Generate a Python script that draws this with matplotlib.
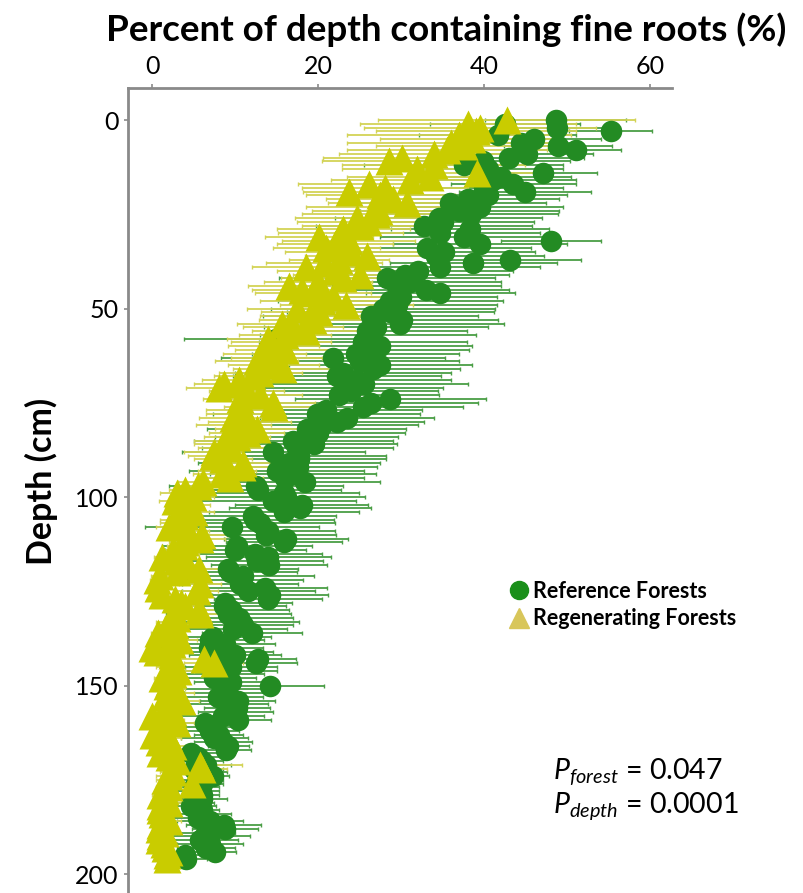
import numpy as np
import matplotlib
matplotlib.use("Agg")
import matplotlib.pyplot as plt
from matplotlib.lines import Line2D

# depth of each sample (cm), one value per cm
depth = np.arange(0, 197)

# Reference forests: percent of depth with fine roots, and its error
ref_pct = [
    48.6, 42.5, 48.8, 55.2, 41.6, 46.0, 44.4, 48.9, 51.0, 45.1,
    43.0, 39.8, 37.5, 40.5, 47.1, 42.0, 41.1, 43.5, 40.0, 44.9,
    40.5, 38.0, 35.9, 39.5, 37.0, 38.4, 34.5, 35.0, 32.7, 38.3,
    34.7, 37.5, 48.0, 39.5, 33.1, 35.1, 34.2, 43.1, 38.7, 34.7,
    32.0, 30.5, 28.3, 31.0, 29.5, 33.0, 34.7, 30.0, 28.7, 29.5,
    27.8, 28.7, 26.3, 30.1, 29.9, 27.0, 25.9, 26.0, 14.9, 25.4,
    27.5, 26.6, 24.5, 21.8, 25.0, 27.5, 26.6, 23.0, 22.3, 24.5,
    25.5, 24.0, 23.9, 22.5, 28.7, 26.3, 25.4, 21.0, 19.8, 23.5,
    22.3, 20.5, 18.6, 20.0, 18.6, 17.0, 19.5, 17.5, 14.6, 17.7,
    17.7, 16.5, 17.6, 15.0, 17.0, 16.0, 18.4, 12.5, 12.8, 15.9,
    16.1, 14.5, 18.0, 17.8, 15.9, 12.2, 12.4, 13.0, 9.6, 14.0,
    13.7, 16.1, 15.9, 10.2, 10.0, 12.4, 14.0, 12.6, 14.1, 9.1,
    9.4, 11.0, 10.7, 10.6, 13.6, 11.6, 14.2, 14.0, 8.8, 8.6,
    9.5, 9.2, 10.5, 10.7, 11.0, 9.8, 12.0, 7.3, 7.0, 8.8,
    6.8, 8.5, 10.0, 12.8, 12.5, 9.5, 9.0, 8.0, 7.5, 9.5,
    14.2, 8.8, 8.9, 7.9, 10.3, 9.0, 10.2, 10.0, 8.5, 10.3,
    6.4, 7.0, 7.0, 8.0, 7.5, 8.5, 9.2, 8.9, 4.7, 5.5,
    6.0, 6.5, 5.0, 6.5, 7.3, 5.5, 6.0, 5.0, 5.5, 6.0,
    6.0, 5.0, 4.7, 6.0, 6.0, 5.5, 7.0, 8.6, 8.8, 6.5,
    6.8, 5.8, 7.0, 6.5, 7.6, 4.0, 4.1,
]
ref_err = [
    8.5, 9.0, 7.5, 5.0, 9.5, 8.0, 7.0, 6.5, 5.5, 8.0,
    9.0, 10.5, 12.0, 9.0, 6.5, 8.5, 10.0, 7.5, 9.5, 8.0,
    9.5, 11.0, 11.5, 10.0, 12.0, 10.5, 12.5, 11.0, 13.0, 9.5,
    12.0, 10.0, 6.0, 10.5, 12.5, 11.0, 13.0, 8.5, 10.0, 12.0,
    11.5, 12.5, 13.0, 11.0, 12.5, 10.0, 9.0, 11.5, 13.5, 12.0,
    13.5, 12.5, 13.0, 11.5, 12.5, 13.5, 12.0, 13.0, 11.0, 12.5,
    11.0, 11.5, 12.5, 13.5, 12.0, 11.0, 10.5, 13.0, 12.5, 11.5,
    12.5, 11.0, 10.5, 12.0, 11.5, 13.0, 12.0, 11.5, 12.5, 10.5,
    10.5, 11.5, 12.0, 10.5, 11.0, 12.0, 10.0, 11.5, 11.0, 10.5,
    10.5, 11.0, 9.5, 10.5, 10.0, 9.5, 9.0, 10.5, 10.0, 9.0,
    9.5, 10.0, 8.0, 8.5, 9.0, 10.0, 9.5, 9.0, 10.5, 8.0,
    8.5, 7.5, 7.0, 9.0, 8.5, 8.0, 7.5, 8.0, 7.0, 8.5,
    8.0, 8.5, 7.5, 7.0, 7.5, 8.0, 7.0, 6.5, 8.0, 7.5,
    7.0, 7.5, 6.5, 7.0, 6.0, 6.5, 6.0, 7.0, 6.5, 6.0,
    6.5, 6.0, 5.5, 4.5, 5.0, 5.5, 6.0, 5.5, 5.0, 4.5,
    6.5, 5.5, 5.0, 5.5, 4.5, 5.0, 4.0, 4.5, 5.0, 4.0,
    4.5, 4.0, 3.5, 3.0, 4.0, 3.5, 2.5, 3.0, 3.5, 3.0,
    2.5, 3.0, 3.5, 2.5, 2.0, 3.0, 2.5, 3.0, 2.5, 2.0,
    3.0, 2.5, 3.0, 2.0, 3.5, 3.0, 4.0, 4.5, 4.0, 3.5,
    5.0, 4.5, 4.0, 3.5, 2.5, 3.0, 2.5,
]

# Regenerating forests
regen_pct = [
    42.7, 38.0, 39.5, 39.0, 37.0, 38.5, 36.0, 37.5, 35.5, 34.0,
    30.1, 28.5, 33.9, 31.9, 39.1, 33.5, 31.0, 26.1, 28.0, 23.7,
    27.5, 29.0, 30.7, 27.0, 27.3, 27.0, 24.7, 26.0, 25.0, 23.0,
    22.7, 20.1, 23.7, 22.0, 21.0, 24.0, 25.9, 22.5, 20.7, 18.5,
    22.0, 25.0, 23.0, 20.0, 16.5, 18.0, 19.4, 21.8, 20.5, 23.4,
    17.4, 20.1, 19.0, 19.4, 15.7, 17.0, 18.5, 16.0, 14.0, 15.5,
    14.6, 16.0, 13.5, 15.0, 12.6, 14.6, 15.8, 13.0, 12.0, 10.5,
    8.6, 8.1, 11.4, 13.0, 10.6, 14.6, 14.7, 11.0, 10.5, 9.7,
    11.7, 9.8, 12.6, 11.4, 10.2, 9.0, 8.5, 9.5, 7.4, 7.3,
    8.5, 11.0, 10.8, 9.0, 8.4, 9.4, 6.1, 5.5, 4.0, 3.0,
    4.9, 2.8, 4.5, 3.5, 5.0, 4.0, 3.0, 2.5, 2.0, 4.3,
    6.0, 5.8, 4.0, 3.8, 2.5, 3.6, 1.2, 3.0, 4.0, 5.6,
    3.0, 0.9, 0.6, 5.8, 0.7, 5.4, 1.2, 2.8, 3.5, 4.0,
    5.6, 5.8, 3.0, 2.0, 2.8, 1.5, 0.7, 2.5, 3.4, 2.4,
    0.0, 0.6, 2.4, 6.3, 7.4, 2.0, 3.1, 2.5, 1.2, 2.0,
    1.8, 2.5, 3.0, 1.6, 3.6, 2.0, 1.5, 2.5, 0.0, 2.4,
    3.0, 0.8, 1.5, 0.1, 2.0, 0.8, 2.5, 1.5, 1.0, 2.0,
    3.0, 5.8, 6.0, 2.5, 2.0, 1.5, 4.8, 2.0, 1.5, 1.0,
    1.5, 2.0, 1.0, 1.0, 1.2, 1.5, 2.0, 1.0, 0.8, 1.5,
    1.0, 0.8, 1.4, 1.5, 2.0, 1.8, 1.8,
]
regen_err = [
    15.5, 13.0, 14.0, 12.0, 13.5, 11.0, 12.5, 10.5, 12.0, 11.5,
    9.5, 8.0, 11.0, 9.0, 7.0, 10.0, 9.5, 8.5, 10.0, 5.5,
    9.0, 8.0, 9.5, 8.5, 8.0, 9.0, 7.5, 8.5, 7.0, 8.0,
    7.5, 6.5, 8.0, 7.0, 6.5, 8.0, 7.5, 6.0, 7.0, 6.5,
    7.0, 8.0, 7.5, 6.5, 5.0, 6.0, 7.0, 6.5, 7.5, 8.0,
    6.0, 7.0, 6.0, 6.5, 5.5, 6.0, 6.5, 5.5, 5.0, 6.0,
    5.5, 6.0, 5.0, 5.5, 5.0, 5.5, 6.0, 5.0, 4.5, 4.5,
    3.5, 4.0, 4.5, 5.0, 4.5, 5.0, 6.0, 4.5, 4.0, 4.0,
    5.0, 4.5, 5.0, 4.5, 4.0, 4.0, 3.5, 4.0, 3.5, 3.0,
    3.5, 4.5, 4.0, 3.5, 3.5, 4.0, 3.0, 2.5, 2.0, 2.0,
    2.5, 2.0, 2.5, 2.0, 2.5, 2.0, 2.0, 1.5, 1.5, 2.5,
    3.0, 3.0, 2.0, 2.0, 1.5, 2.0, 1.0, 1.5, 2.0, 2.5,
    2.0, 1.0, 0.8, 2.5, 0.8, 2.5, 1.0, 1.5, 2.0, 2.0,
    2.5, 2.5, 1.5, 1.5, 1.5, 1.0, 0.8, 1.5, 2.0, 1.5,
    0.5, 0.8, 1.5, 3.0, 3.5, 1.5, 2.0, 1.5, 1.0, 1.5,
    1.5, 1.5, 2.0, 1.0, 2.0, 1.5, 1.0, 1.5, 0.5, 1.5,
    2.0, 0.8, 1.0, 0.5, 1.5, 0.8, 1.5, 1.0, 1.0, 1.5,
    2.0, 5.0, 3.0, 1.5, 1.5, 1.0, 2.5, 1.5, 1.0, 1.0,
    1.0, 1.5, 1.0, 1.0, 1.0, 1.0, 1.5, 1.0, 0.8, 1.0,
    1.0, 0.8, 1.0, 1.0, 1.5, 1.0, 1.0,
]

x_ticks = [0, 20, 40, 60]
y_ticks = [0, 50, 100, 150, 200]

GREEN = "#238b23"
GREEN_BAR = "#4a9e45"
YELLOW = "#c9cc00"
YELLOW_BAR = "#d3d356"
AXIS_GREY = "#8a8a8a"

plt.rcParams["font.family"] = ["Lato", "DejaVu Sans"]
plt.rcParams["mathtext.fontset"] = "custom"
plt.rcParams["mathtext.rm"] = "Lato"
plt.rcParams["mathtext.it"] = "Lato:italic"

fig = plt.figure(figsize=(8.04, 8.93), dpi=100)
ax = fig.add_axes([0.1592, 0.0, 0.6766, 0.9015])

# error bars first, markers on top
ax.errorbar(ref_pct, depth, xerr=ref_err, fmt="none", ecolor=GREEN_BAR,
            elinewidth=1.3, capsize=1.5, capthick=1.0, zorder=1)
ax.errorbar(regen_pct, depth, xerr=regen_err, fmt="none", ecolor=YELLOW_BAR,
            elinewidth=1.3, capsize=1.5, capthick=1.0, zorder=2)
ax.plot(ref_pct, depth, "o", color=GREEN, ms=15.5, mec="none", zorder=3)
ax.plot(regen_pct, depth, "^", color=YELLOW, ms=20, mec="none", zorder=4)

ax.set_xlim(-2.9, 62.6)
ax.set_ylim(205, -8.5)
ax.xaxis.tick_top()
ax.set_xticks(x_ticks)
ax.set_yticks(y_ticks)
ax.tick_params(axis="both", labelsize=18, color=AXIS_GREY, length=3,
               width=1.2, pad=4, labelcolor="black")
for side in ("right", "bottom"):
    ax.spines[side].set_visible(False)
for side in ("top", "left"):
    ax.spines[side].set_color(AXIS_GREY)
    ax.spines[side].set_linewidth(2)

fig.text(446 / 804, 1 - 30 / 893, "Percent of depth containing fine roots (%)",
         ha="center", va="center", fontsize=26.5, fontweight="bold")
fig.text(41 / 804, 1 - 481 / 893, "Depth (cm)", rotation=90,
         ha="center", va="center", fontsize=24.5, fontweight="bold")

handles = [
    Line2D([], [], ls="none", marker="o", color="#1a8f1a", ms=13),
    Line2D([], [], ls="none", marker="^", color="#d8c65a", ms=14),
]
fig.legend(handles, ["Reference Forests", "Regenerating Forests"],
           loc="upper left", bbox_to_anchor=(508 / 804, 1 - 581 / 893),
           frameon=False, handlelength=1.0, handletextpad=0.15,
           borderpad=0, borderaxespad=0, labelspacing=0.3,
           prop={"weight": "bold", "size": 15.5})

fig.text(553 / 804, 1 - 772 / 893, r"$P_{forest}$ = 0.047",
         ha="left", va="center", fontsize=20.5)
fig.text(553 / 804, 1 - 806 / 893, r"$P_{depth}$ = 0.0001",
         ha="left", va="center", fontsize=20.5)

fig.savefig("out.png", dpi=100)
